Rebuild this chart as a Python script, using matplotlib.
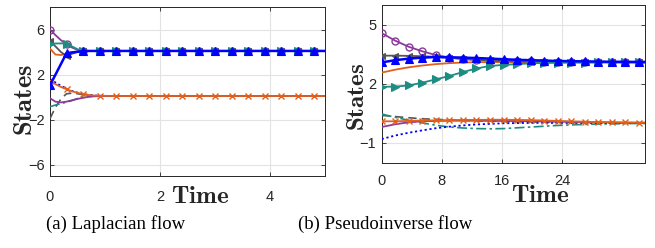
import numpy as np
import matplotlib
matplotlib.use("Agg")
import matplotlib.pyplot as plt

plt.rcParams['mathtext.fontset'] = 'cm'
plt.rcParams['font.family'] = ['Liberation Sans', 'DejaVu Sans']

# ---------------- data: (a) Laplacian flow ----------------
t_a = [0, 0.1, 0.2, 0.3, 0.4, 0.5, 0.6, 0.7, 0.8, 0.9, 1.2, 1.5, 1.8, 2.1, 2.4,
       2.7, 3.0, 3.3, 3.6, 3.9, 4.2, 4.5, 4.8, 5.0]
a_purple_o = [6.0, 5.5, 5.05, 4.7, 4.4, 4.2, 4.12, 4.1, 4.1, 4.1, 4.1, 4.1, 4.1, 4.1,
              4.1, 4.1, 4.1, 4.1, 4.1, 4.1, 4.1, 4.1, 4.1, 4.1]
a_teal_tri = [4.75, 4.76, 4.77, 4.76, 4.5, 4.25, 4.12, 4.1, 4.1, 4.1, 4.1, 4.1, 4.1, 4.1,
              4.1, 4.1, 4.1, 4.1, 4.1, 4.1, 4.1, 4.1, 4.1, 4.1]
a_gray_tri = [4.97, 4.5, 4.0, 3.65, 3.85, 4.0, 4.07, 4.1, 4.1, 4.1, 4.1, 4.1, 4.1, 4.1,
              4.1, 4.1, 4.1, 4.1, 4.1, 4.1, 4.1, 4.1, 4.1, 4.1]
a_orange = [4.3, 3.78, 3.74, 3.85, 3.97, 4.04, 4.08, 4.1, 4.1, 4.1, 4.1, 4.1, 4.1, 4.1,
            4.1, 4.1, 4.1, 4.1, 4.1, 4.1, 4.1, 4.1, 4.1, 4.1]
a_blue_tri = [1.05, 2.0, 2.95, 3.9, 3.97, 4.03, 4.08, 4.1, 4.1, 4.1, 4.1, 4.1, 4.1, 4.1,
              4.1, 4.1, 4.1, 4.1, 4.1, 4.1, 4.1, 4.1, 4.1, 4.1]
a_orange_x = [1.45, 1.15, 0.9, 0.7, 0.52, 0.38, 0.27, 0.19, 0.14, 0.12, 0.1, 0.1, 0.1, 0.1,
              0.1, 0.1, 0.1, 0.1, 0.1, 0.1, 0.1, 0.1, 0.1, 0.1]
a_blue_dot = [1.6, 1.3, 1.0, 0.75, 0.55, 0.4, 0.28, 0.2, 0.15, 0.12, 0.1, 0.1, 0.1, 0.1,
              0.1, 0.1, 0.1, 0.1, 0.1, 0.1, 0.1, 0.1, 0.1, 0.1]
a_purple = [-0.1, -0.4, -0.47, -0.4, -0.28, -0.16, -0.06, 0.02, 0.07, 0.09, 0.1, 0.1, 0.1,
            0.1, 0.1, 0.1, 0.1, 0.1, 0.1, 0.1, 0.1, 0.1, 0.1, 0.1]
a_teal_dd = [-0.85, -0.7, -0.57, -0.45, -0.3, -0.12, 0.02, 0.08, 0.1, 0.1, 0.1, 0.1, 0.1,
             0.1, 0.1, 0.1, 0.1, 0.1, 0.1, 0.1, 0.1, 0.1, 0.1, 0.1]
a_gray_dash = [-1.9, -0.9, -0.15, 0.3, 0.35, 0.3, 0.22, 0.16, 0.12, 0.1, 0.1, 0.1, 0.1,
               0.1, 0.1, 0.1, 0.1, 0.1, 0.1, 0.1, 0.1, 0.1, 0.1, 0.1]
a_xticks = [0, 2, 4]
a_yticks = [-6, -2, 2, 6]

# ---------------- data: (b) Pseudoinverse flow ----------------
t_b = [0, 1.8, 3.6, 5.4, 7.2, 9.0, 10.8, 12.6, 14.4, 16.2, 18.0, 19.8, 21.6, 23.4,
       25.2, 27.0, 28.8, 30.6, 32.4, 34.2, 35.0]
b_purple_o = [4.57, 4.19, 3.88, 3.65, 3.46, 3.33, 3.26, 3.21, 3.18, 3.16, 3.15, 3.14,
              3.13, 3.12, 3.12, 3.11, 3.11, 3.1, 3.1, 3.1, 3.1]
b_blue_tri = [3.09, 3.2, 3.28, 3.33, 3.36, 3.35, 3.33, 3.31, 3.28, 3.25, 3.22, 3.2,
              3.18, 3.16, 3.15, 3.14, 3.13, 3.12, 3.12, 3.11, 3.11]
b_gray_tri = [3.43, 3.43, 3.42, 3.4, 3.37, 3.32, 3.27, 3.22, 3.19, 3.16, 3.14, 3.13,
              3.12, 3.11, 3.11, 3.1, 3.1, 3.1, 3.1, 3.1, 3.1]
b_orange = [2.57, 2.72, 2.84, 2.93, 3.0, 3.05, 3.08, 3.1, 3.1, 3.1, 3.09, 3.09, 3.09,
            3.09, 3.09, 3.09, 3.09, 3.09, 3.09, 3.09, 3.09]
b_teal_tri = [1.85, 1.86, 1.92, 2.06, 2.23, 2.4, 2.6, 2.78, 2.91, 2.96, 3.0, 3.04, 3.06,
              3.07, 3.08, 3.08, 3.09, 3.09, 3.09, 3.09, 3.09]
b_orange_x = [0.1, 0.1, 0.12, 0.14, 0.15, 0.16, 0.17, 0.17, 0.18, 0.18, 0.17, 0.16, 0.14,
              0.12, 0.1, 0.08, 0.06, 0.05, 0.04, 0.03, 0.03]
b_purple = [-0.19, -0.05, 0.05, 0.1, 0.12, 0.13, 0.13, 0.13, 0.12, 0.12, 0.11, 0.1, 0.09,
            0.08, 0.07, 0.06, 0.05, 0.04, 0.03, 0.03, 0.03]
b_gray_dash = [0.4, 0.34, 0.28, 0.23, 0.2, 0.17, 0.15, 0.13, 0.11, 0.09, 0.08, 0.07, 0.06,
               0.05, 0.04, 0.03, 0.03, 0.02, 0.02, 0.02, 0.02]
b_teal_dd = [0.47, 0.3, 0.15, 0.02, -0.1, -0.19, -0.24, -0.27, -0.28, -0.27, -0.23, -0.19,
             -0.15, -0.11, -0.08, -0.06, -0.04, -0.03, -0.02, -0.01, -0.01]
b_blue_dot = [-0.8, -0.62, -0.48, -0.36, -0.25, -0.17, -0.11, -0.06, -0.03, 0.0, 0.01,
              0.02, 0.02, 0.02, 0.02, 0.02, 0.02, 0.02, 0.02, 0.02, 0.02]
b_xticks = [0, 8, 16, 24]
b_yticks = [-1, 2, 5]

C_BLUE = '#0000FF'
C_ORANGE = '#E0601C'
C_PURPLE = '#8A3A9A'
C_TEAL = '#1E8C80'
C_GRAY = '#555555'

W, H = 655, 248
fig = plt.figure(figsize=(W / 100, H / 100), dpi=100)


def draw(ax, t, upper, lower, mev):
    (p_o, g_t, o_s, te_t, b_t) = upper
    (o_x, pu, g_d, te_d, b_d) = lower
    ax.plot(t, g_d, color=C_GRAY, lw=1.2, ls=(0, (5, 3)), zorder=3)
    ax.plot(t, te_d, color=C_TEAL, lw=1.2, ls=(0, (6, 2, 1.5, 2)), zorder=3)
    ax.plot(t, b_d, color=C_BLUE, lw=1.3, ls=(0, (1.2, 1.5)), zorder=3)
    ax.plot(t, pu, color=C_PURPLE, lw=1.3, zorder=3)
    ax.plot(t, o_x, color=C_ORANGE, lw=1.3, marker='x', ms=4, mew=1.0,
            markevery=mev, zorder=4)
    ax.plot(t, o_s, color=C_ORANGE, lw=1.3, zorder=3)
    ax.plot(t, p_o, color=C_PURPLE, lw=1.3, marker='o', ms=5, mfc='none', mew=1.0,
            markevery=mev, zorder=3)
    ax.plot(t, g_t, color=C_GRAY, lw=1.3, marker='<', ms=5, mew=0.8,
            markevery=mev, zorder=3)
    ax.plot(t, te_t, color=C_TEAL, lw=1.3, marker='>', ms=5.5, mew=0.8,
            markevery=mev, zorder=3)
    ax.plot(t, b_t, color=C_BLUE, lw=1.8, marker='^', ms=6, mew=0.8,
            markevery=mev, zorder=5)


def style(ax, xlim, ylim, xt, yt, pad_x):
    ax.set_xlim(*xlim)
    ax.set_ylim(*ylim)
    ax.set_xticks(xt)
    ax.set_yticks(yt)
    ax.grid(True, color='#e3e3e3', lw=0.8)
    ax.set_axisbelow(True)
    ax.tick_params(direction='in', length=3, width=0.6, top=True, right=True,
                   labelsize=10.5, colors='#262626')
    ax.tick_params(axis='x', pad=pad_x)
    ax.tick_params(axis='y', pad=4)
    for s in ax.spines.values():
        s.set_color('#262626')
        s.set_linewidth(0.7)


# (a)
ax1 = fig.add_axes([50 / W, 1 - 176 / H, 275 / W, 169 / H])
mev_a = [i for i, tv in enumerate(t_a) if abs(tv / 0.3 - round(tv / 0.3)) < 1e-6]
draw(ax1, t_a,
     (a_purple_o, a_gray_tri, a_orange, a_teal_tri, a_blue_tri),
     (a_orange_x, a_purple, a_gray_dash, a_teal_dd, a_blue_dot), mev_a)
style(ax1, (0, 5), (-7, 8), a_xticks, a_yticks, 10)

# (b)
ax2 = fig.add_axes([381.7 / W, 1 - 162.7 / H, 263.3 / W, 157.7 / H])
mev_b = list(range(len(t_b) - 1))
draw(ax2, t_b,
     (b_purple_o, b_gray_tri, b_orange, b_teal_tri, b_blue_tri),
     (b_orange_x, b_purple, b_gray_dash, b_teal_dd, b_blue_dot), mev_b)
style(ax2, (0, 35), (-2, 6), b_xticks, b_yticks, 8)

# axis labels (bold serif, Computer Modern style)
fig.text(25 / W, 1 - 100 / H, r'$\mathbf{States}$', rotation=90, fontsize=19,
         ha='center', va='center', color='#262626')
fig.text(200 / W, 1 - 196 / H, r'$\mathbf{Time}$', fontsize=18,
         ha='center', va='center', color='#262626')
fig.text(357 / W, 1 - 97 / H, r'$\mathbf{States}$', rotation=90, fontsize=18,
         ha='center', va='center', color='#262626')
fig.text(540 / W, 1 - 195 / H, r'$\mathbf{Time}$', fontsize=18,
         ha='center', va='center', color='#262626')

# captions
fig.text(116 / W, 1 - 224 / H, '(a) Laplacian flow', fontsize=13.5,
         family='Liberation Serif', ha='center', va='center', color='black')
fig.text(385 / W, 1 - 224 / H, '(b) Pseudoinverse flow', fontsize=13.5,
         family='Liberation Serif', ha='center', va='center', color='black')

fig.savefig('out.png', dpi=100)
